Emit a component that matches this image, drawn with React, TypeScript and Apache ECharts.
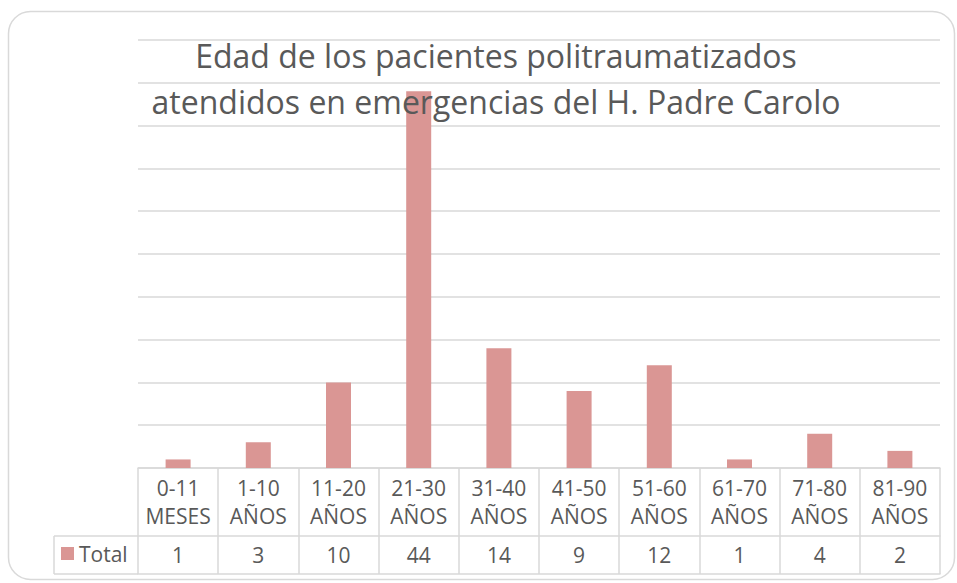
import React, { useEffect, useRef } from "react";
import * as echarts from "echarts";

const categories = [
  "0-11 MESES",
  "1-10 AÑOS",
  "11-20 AÑOS",
  "21-30 AÑOS",
  "31-40 AÑOS",
  "41-50 AÑOS",
  "51-60 AÑOS",
  "61-70 AÑOS",
  "71-80 AÑOS",
  "81-90 AÑOS",
];
const totals = [1, 3, 10, 44, 14, 9, 12, 1, 4, 2];
const seriesName = "Total";
const titleLines = [
  "Edad de los pacientes politraumatizados",
  "atendidos en emergencias del H. Padre Carolo",
];

const FONT = "'Open Sans', sans-serif";
const TEXT = "#595959";
const LINE = "#D9D9D9";
const BAR = "#DA9694";

export default function App() {
  const ref = useRef<HTMLDivElement>(null);
  useEffect(() => {
    if (!ref.current) return;
    const chart = echarts.init(ref.current, null, { renderer: "svg" });
    const gridLeft = 138;
    const gridRight = 940;
    const axisY = 468;
    const row1 = 536;
    const row2 = 574;
    chart.setOption({
      animation: false,
      textStyle: { fontFamily: FONT },
      grid: { left: gridLeft, right: 957 - gridRight, top: 40, bottom: 583 - axisY, containLabel: false },
      legend: {
        data: [seriesName],
        left: 61,
        top: 543,
        padding: 0,
        icon: "rect",
        itemWidth: 13,
        itemHeight: 13,
        itemGap: 7,
        textStyle: { fontSize: 21, color: TEXT, fontFamily: FONT },
      },
      xAxis: [
        {
          type: "category",
          data: categories,
          position: "bottom",
          axisLine: { show: true, lineStyle: { color: LINE, width: 1.5 } },
          axisTick: { show: true, length: row2 - axisY, lineStyle: { color: LINE, width: 1.5 } },
          axisLabel: {
            interval: 0,
            margin: 6,
            fontSize: 21,
            lineHeight: 28,
            color: TEXT,
            fontFamily: FONT,
            formatter: (v: string) => v.replace(" ", "\n"),
          },
          splitLine: { show: false },
        },
        {
          type: "category",
          data: totals.map(String),
          position: "bottom",
          offset: row1 - axisY,
          axisLine: { show: true, lineStyle: { color: LINE, width: 1.5 } },
          axisTick: { show: false },
          axisLabel: { interval: 0, margin: 8, fontSize: 21, color: TEXT, fontFamily: FONT },
        },
        {
          type: "category",
          data: totals.map(String),
          position: "bottom",
          offset: row2 - axisY,
          axisLine: { show: true, lineStyle: { color: LINE, width: 1.5 } },
          axisTick: { show: false },
          axisLabel: { show: false },
        },
      ],
      yAxis: {
        type: "value",
        min: 0,
        max: 50,
        interval: 5,
        axisLabel: { show: false },
        axisLine: { show: false },
        axisTick: { show: false },
        splitLine: { show: true, lineStyle: { color: LINE, width: 1.5 } },
      },
      series: [
        {
          name: seriesName,
          type: "bar",
          xAxisIndex: 0,
          data: totals,
          barWidth: 25,
          itemStyle: { color: BAR },
        },
      ],
      graphic: [
        {
          type: "rect",
          shape: { x: 8.5, y: 11.5, width: 946, height: 568, r: 22 },
          style: { fill: "none", stroke: LINE, lineWidth: 1.5 },
          z: -10,
        },
        {
          type: "text",
          x: 496,
          y: 32,
          style: {
            text: titleLines.join("\n"),
            fontSize: 32,
            lineHeight: 46,
            fontFamily: FONT,
            fill: TEXT,
            align: "center",
            textAlign: "center",
          },
          z: 10,
        },
        {
          type: "line",
          shape: { x1: 54, y1: row1, x2: gridLeft, y2: row1 },
          style: { stroke: LINE, lineWidth: 1.5 },
        },
        {
          type: "line",
          shape: { x1: 54, y1: row2, x2: gridLeft, y2: row2 },
          style: { stroke: LINE, lineWidth: 1.5 },
        },
        {
          type: "line",
          shape: { x1: 54, y1: row1, x2: 54, y2: row2 },
          style: { stroke: LINE, lineWidth: 1.5 },
        },
      ],
    });
    return () => chart.dispose();
  }, []);
  return (
    <div
      ref={ref}
      style={{ position: "fixed", left: 0, top: 0, width: 957, height: 583, background: "#fff" }}
    />
  );
}
